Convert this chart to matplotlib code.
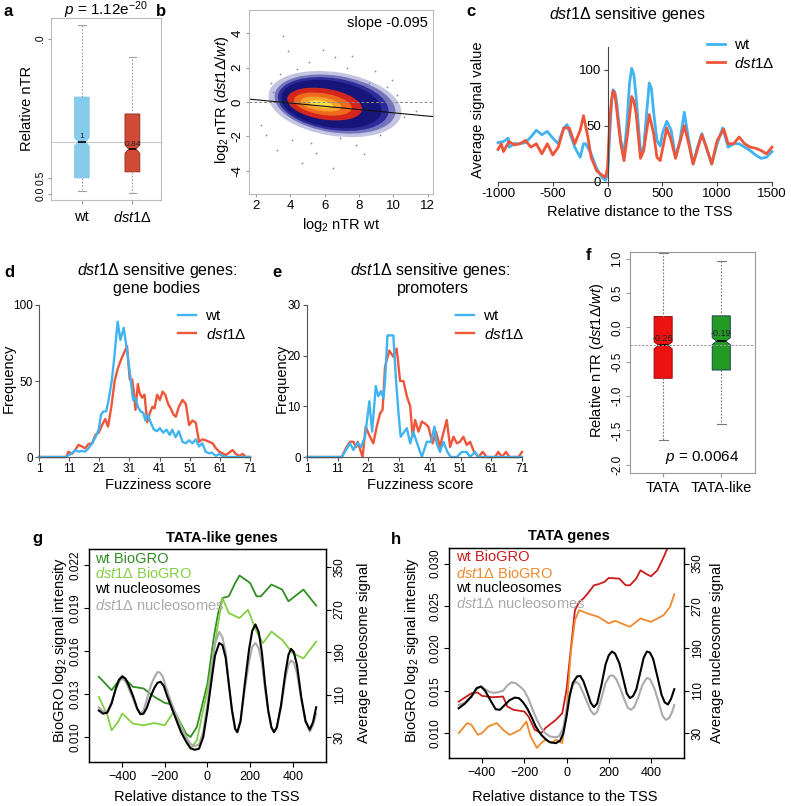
import matplotlib
matplotlib.use('Agg')
import matplotlib.pyplot as plt
from matplotlib.patches import Ellipse

W, H = 791, 806
plt.rcParams['font.family'] = ['Liberation Sans', 'DejaVu Sans']
plt.rcParams['mathtext.fontset'] = 'custom'
plt.rcParams['mathtext.rm'] = 'Liberation Sans'
plt.rcParams['mathtext.it'] = 'Liberation Sans:italic'
plt.rcParams['mathtext.bf'] = 'Liberation Sans:bold'

DST = r'$\mathit{dst1}\Delta$'

# ---------------- data ----------------
# a: boxplot (axis units as drawn)
a_pos = [1.03, 1.95]
a_labels = ['wt', DST]
a_whislo = [0.09, 0.03]
a_q1 = [0.50, 0.69]
a_med = [1.625, 1.40]
a_q3 = [3.03, 2.50]
a_whishi = [5.28, 4.28]
a_notch = [0.13, 0.13]
a_medtext = ['1', '0.84']
a_colors = ['#86CBEA', '#D04A35']
a_edges = ['#86CBEA', '#8a2a1c']
a_yticks = [0.0, 0.5, 4.84]
a_yticklabels = ['0.0', '0.5', '.0']

# b: density scatter, summarised as nested density layers + sparse points
b_center_y = -0.12
b_angle = -9
b_layer_cx = [6.6, 6.6, 6.5, 6.4, 6.0, 5.9, 5.8, 5.8]
b_layer_w = [7.8, 7.1, 6.5, 5.9, 4.4, 3.4, 2.4, 1.4]
b_layer_h = [3.7, 3.3, 3.0, 2.7, 1.8, 1.25, 0.8, 0.4]
b_layer_col = ['#c4c4e2', '#7474bc', '#2c2c9a', '#15157a', '#d4261c', '#ef6a1c', '#f8a22e', '#fbe04a']
b_out_x = [3.6, 3.85, 5.1, 4.4, 6.6, 7.3, 8.9, 9.6, 10.2, 2.3, 2.6, 3.2, 4.7, 5.5,
           6.5, 7.8, 9.2, 10.6, 11.3, 3.0, 2.9, 5.9, 8.3, 4.1, 6.9, 9.9, 3.4, 7.6, 5.2, 8.6]
b_out_y = [3.84, 2.98, 2.34, 1.9, 2.6, 2.0, 1.8, 0.9, 0.4, -1.34, -1.92, -2.8, -3.55, -2.97,
           -3.84, -2.5, -1.9, -0.9, -0.5, 0.6, 1.1, 3.0, -3.0, -2.2, -2.1, 1.3, 1.6, 2.7, -2.4, 1.1]
b_slope, b_intercept = -0.095, 0.32

# c: average signal profiles
c_x_wt = [-1000, -950, -906, -900, -850, -800, -750, -700, -650, -600, -550, -500, -450, -400,
          -370, -350, -300, -250, -220, -200, -150, -100, -50, -20, 0, 20, 35, 50, 65, 80, 100,
          120, 150, 175, 200, 220, 240, 260, 300, 330, 355, 380, 400, 420, 450, 480, 500, 540, 580,
          620, 660, 700, 730, 780, 820, 860, 900, 950, 1000, 1050, 1100, 1150, 1200, 1250, 1300,
          1350, 1400, 1450, 1500]
c_y_wt = [35, 36, 39, 31, 34, 34, 35, 40, 46, 42, 45, 39, 34, 48, 51, 45, 31, 22, 34, 34, 25,
          12, 4, 1.5, 7, 43, 70, 82, 80, 73, 55, 37, 25, 50, 88, 101, 95, 76, 27, 31, 60, 88, 83,
          62, 37, 32, 43, 54, 46, 22, 37, 62, 43, 16, 31, 43, 31, 16, 34, 48, 31, 34, 34, 31, 28,
          24, 21, 22, 27]
c_x_mut = [-1000, -970, -950, -900, -850, -800, -750, -700, -650, -600, -550, -500, -450, -400,
           -350, -300, -250, -220, -180, -150, -100, -50, -20, 0, 20, 35, 50, 65, 80, 100, 120, 150,
           185, 220, 240, 260, 300, 330, 355, 380, 420, 450, 480, 540, 580, 620, 700, 740, 780,
           860, 900, 950, 1000, 1060, 1100, 1150, 1200, 1250, 1300, 1350, 1400, 1450, 1500]
c_y_mut = [29, 34, 27, 36, 33, 34, 37, 31, 34, 25, 34, 24, 31, 48, 48, 34, 46, 59, 40, 22, 10,
           6, 4, 13, 55, 72, 81, 79, 67, 50, 34, 19, 45, 76, 72, 61, 21, 28, 45, 60, 43, 22, 19,
           48, 37, 21, 50, 34, 16, 42, 31, 16, 37, 47, 34, 34, 40, 34, 31, 30, 28, 25, 31]

# d: fuzziness histograms, gene bodies
d_x_wt = [1, 10, 10.8, 11.9, 13, 14.1, 15.2, 16.3, 17.4, 18.6, 19.7, 20.8, 21.6, 22.4, 23.3,
          24.1, 25.2, 26, 27.1, 28, 29.1, 30.2, 31.3, 32.2, 33, 33.8, 34.7, 35.6, 36.3, 37.1, 38,
          39.1, 40.2, 41.1, 42.2, 43.3, 44.4, 45.2, 46.3, 47.4, 48.6, 49.7, 50.8, 51.9, 53, 54.1,
          55.2, 56.3, 57.4, 58.3, 59.7, 60.8, 61.9, 63, 71]
d_y_wt = [0, 0, 1.3, 2.4, 4.6, 3.5, 4, 3.5, 5.7, 9, 13, 18, 28, 30, 30, 37.5, 51, 66, 89, 77,
          85, 70, 53, 37.5, 39, 33, 30, 29, 24, 28, 23, 18, 17, 19, 16, 18, 14.5, 18, 13, 17, 10,
          9, 11, 9, 11.6, 7, 9, 3.5, 2.4, 2.9, 0.7, 2, 0.7, 0, 0]
d_x_mut = [1, 10, 10.8, 11.9, 13, 14.1, 15.2, 16.3, 17.4, 18.6, 19.7, 20.8, 21.9, 23, 23.9, 25,
           26.1, 27.1, 28.2, 29.3, 30.2, 31.1, 31.9, 32.4, 33, 33.8, 34.4, 35.2, 36, 36.9, 37.8,
           38.6, 39.3, 40.2, 41.1, 42, 42.9, 43.8, 44.7, 45.6, 46.4, 47.4, 48.6, 49.7, 50.8, 51.9,
           53, 54.1, 55.2, 56.3, 57.4, 58.6, 59.7, 60.8, 61.9, 63, 64.1, 65.2, 66.3, 67.4, 68.6,
           69.6, 71]
d_y_mut = [0, 0, 3.5, 2, 4.6, 8, 7, 5.7, 8.5, 9, 14.5, 16, 21, 25, 20, 33, 50, 58, 64, 69, 73,
           51, 51, 44, 31, 48, 42, 39, 41, 23, 29, 33, 32, 41, 37.5, 43, 41, 35, 32, 28, 26.5, 33,
           37.5, 35, 21, 24, 22.6, 10, 11.6, 11, 10, 9, 5.7, 3.5, 2.4, 1.3, 2.9, 4.6, 2, 0.7, 2,
           0, 0]

# e: fuzziness histograms, promoters
e_x_wt = [1, 11.7, 12.3, 15, 16.1, 17.4, 18.6, 19.9, 21.3, 22.2, 23.4, 24.2, 25.1, 25.9, 26.4,
          27.2, 29.1, 30, 30.8, 31.5, 33.5, 34.6, 35.6, 36.7, 38.4, 40, 41.4, 42.5, 43.2, 44.3,
          45.4, 46.7, 47.8, 49.8, 51.4, 53, 54.1, 55.7, 56.8, 71]
e_y_wt = [0, 0, 0, 2.7, 1.4, 2.8, 2, 4, 11, 5, 14, 12, 13, 11.6, 15, 24, 24, 15, 8.6, 4, 5.7,
          2.7, 5, 3, 0, 3, 3, 6, 2.7, 1, 3, 1, 0, 0, 1, 1, 0, 1, 0, 0]
e_x_mut = [1, 12.3, 13.9, 15, 16.1, 17, 17.5, 19.1, 20.1, 21.5, 22.6, 23.7, 24.8, 25.6, 26.4,
           27.8, 29.1, 30.2, 31.3, 32.4, 33.5, 34.6, 35.4, 36.2, 37.3, 38.4, 39.4, 40.5, 41.9, 43,
           44.3, 45.2, 46.5, 47.6, 48.7, 49.8, 50.8, 51.9, 53, 54.1, 55.4, 56.8, 58.2, 59.5, 62.2,
           63.3, 64.4, 65.8, 66.9, 69.9, 71]
e_y_mut = [0, 0, 2, 3, 3, 2, 3, 0, 6, 4, 2.7, 6, 8.6, 9.3, 17.8, 21, 19.8, 21.4, 15, 15, 12, 10,
           4, 7.3, 5, 7, 6.6, 6, 2.7, 5, 2, 4.3, 7.3, 2, 4, 2.7, 3, 4, 2.4, 3, 1, 0, 1, 0, 0, 1, 0,
           1, 0, 0, 1]

# f: boxplot TATA / TATA-like
f_pos = [1.03, 1.96]
f_labels = ['TATA', 'TATA-like']
f_whislo = [-1.64, -1.41]
f_q1 = [-0.74, -0.62]
f_med = [-0.26, -0.20]
f_q3 = [0.16, 0.17]
f_whishi = [1.08, 0.97]
f_notch = [0.05, 0.05]
f_medtext = ['-0.26', '-0.19']
f_colors = ['#EE1111', '#249A24']
f_yticks = [1.0, 0.5, 0.0, -0.5, -1.0, -1.5, -2.0]
f_yticklabels = ['1.0', '0.5', '0.0', '-0.5', '-1.0', '-1.5', '-2.0']

# g: TATA-like genes
g_x_bg_wt = [-510, -450, -400, -350, -300, -250, -200, -170, -150, -100, -80, -50, 0, 30, 50,
             70, 100, 130, 150, 200, 230, 250, 300, 350, 380, 450, 510]
g_y_bg_wt = [0.01421, 0.01327, 0.01426, 0.01351, 0.01339, 0.01281, 0.01238, 0.01229, 0.01164,
             0.01023, 0.01000, 0.01070, 0.01374, 0.01701, 0.01865, 0.01970, 0.01982, 0.02075,
             0.02127, 0.02075, 0.01982, 0.01982, 0.02064, 0.02029, 0.01947, 0.02029, 0.01917]
g_x_bg_mut = [-510, -470, -450, -420, -400, -350, -300, -250, -200, -160, -140, -100, -80, -50,
              0, 30, 50, 70, 100, 150, 190, 230, 260, 300, 350, 400, 450, 510]
g_y_bg_mut = [0.01281, 0.01152, 0.01047, 0.01105, 0.01164, 0.01094, 0.01082, 0.01098, 0.01082,
              0.01175, 0.01140, 0.01000, 0.00918, 0.00977, 0.01327, 0.01608, 0.01795, 0.01970,
              0.01865, 0.01830, 0.01888, 0.01736, 0.01655, 0.01736, 0.01678, 0.01585, 0.01549,
              0.01666]
g_x_nuc_wt = [-510, -490, -470, -450, -430, -415, -400, -385, -370, -350, -330, -315, -300, -285,
              -265, -250, -235, -220, -205, -190, -170, -150, -125, -100, -80, -60, -40, -20, 0,
              20, 35, 55, 70, 85, 100, 115, 130, 140, 155, 175, 195, 210, 225, 240, 255, 270, 285,
              300, 312, 325, 345, 365, 380, 392, 405, 420, 440, 460, 480, 495, 510]
g_y_nuc_wt = [80, 74, 76, 93, 122, 138, 144, 140, 128, 108, 84, 73, 74, 85, 108, 122, 132, 134,
              126, 108, 87, 66, 40, 21, 9, 6, 8, 30, 80, 140, 183, 207, 203, 180, 130, 80, 45, 39,
              60, 130, 195, 230, 242, 228, 190, 130, 80, 48, 39, 48, 90, 150, 185, 196, 190, 165,
              105, 60, 44, 58, 86]
g_x_nuc_mut = [-510, -490, -470, -450, -430, -415, -400, -385, -370, -350, -330, -315, -300, -285,
               -265, -250, -235, -225, -210, -195, -170, -150, -125, -100, -80, -60, -40, -20, 0,
               20, 35, 55, 70, 85, 100, 115, 130, 140, 155, 175, 195, 210, 225, 240, 255, 270, 285,
               300, 312, 325, 345, 365, 380, 392, 405, 420, 440, 460, 480, 495, 510]
g_y_nuc_mut = [86, 78, 78, 96, 120, 134, 140, 135, 122, 103, 82, 74, 80, 100, 128, 142, 152, 152,
               144, 124, 95, 74, 48, 30, 17, 13, 16, 40, 93, 158, 205, 228, 218, 190, 130, 80, 45,
               40, 60, 120, 172, 200, 207, 198, 170, 120, 78, 48, 40, 48, 85, 140, 166, 174, 170,
               150, 100, 58, 40, 52, 74]

# h: TATA genes
h_x_bg_wt = [-510, -450, -420, -400, -350, -300, -280, -250, -200, -180, -150, -120, -100, -50,
             -20, 0, 20, 40, 60, 80, 100, 130, 150, 180, 200, 250, 280, 300, 330, 350, 380, 400,
             430, 460, 490, 510]
h_y_bg_wt = [0.01372, 0.01470, 0.01478, 0.01439, 0.01423, 0.01431, 0.01314, 0.01274, 0.01255,
             0.01196, 0.01039, 0.01000, 0.01059, 0.01157, 0.01235, 0.01510, 0.01980, 0.02450,
             0.02548, 0.02588, 0.02646, 0.02744, 0.02756, 0.02784, 0.02831, 0.02823, 0.02744,
             0.02744, 0.02823, 0.02921, 0.02874, 0.02850, 0.02921, 0.03078, 0.03254, 0.03391]
h_x_bg_mut = [-510, -470, -450, -420, -400, -370, -330, -300, -270, -250, -220, -190, -170, -140,
              -120, -100, -70, -50, -20, 0, 20, 40, 60, 80, 100, 150, 200, 230, 260, 300, 330,
              350, 400, 430, 460, 490, 510]
h_y_bg_mut = [0.01000, 0.01118, 0.01098, 0.00980, 0.01000, 0.01078, 0.01118, 0.01039, 0.00980,
              0.01000, 0.01039, 0.01137, 0.00961, 0.00824, 0.00882, 0.00922, 0.00882, 0.00922,
              0.00882, 0.01274, 0.01941, 0.02333, 0.02450, 0.02431, 0.02411, 0.02372, 0.02294,
              0.02325, 0.02294, 0.02254, 0.02313, 0.02352, 0.02313, 0.02352, 0.02392, 0.02490,
              0.02639]
h_x_nuc_wt = [-510, -480, -450, -425, -405, -385, -360, -335, -315, -295, -270, -245, -225, -205,
              -185, -165, -145, -120, -100, -80, -50, -30, -15, 0, 15, 30, 50, 65, 80, 100, 115,
              130, 145, 165, 185, 200, 215, 230, 250, 270, 285, 300, 315, 330, 350, 365, 380, 395,
              410, 430, 450, 465, 480, 495, 510]
h_y_nuc_wt = [77, 86, 99, 115, 118, 110, 92, 75, 74, 82, 92, 97, 96, 88, 76, 60, 42, 27, 19, 13,
              11, 16, 30, 61, 100, 125, 137, 138, 128, 105, 87, 79, 86, 120, 160, 177, 184, 180,
              162, 130, 105, 96, 100, 112, 146, 172, 184, 182, 170, 137, 102, 88, 84, 95, 113]
h_x_nuc_mut = [-510, -480, -450, -425, -405, -385, -365, -345, -325, -300, -280, -260, -240, -220,
               -200, -180, -160, -140, -120, -100, -80, -55, -35, -15, 0, 15, 30, 45, 60, 80, 100,
               115, 130, 145, 165, 185, 205, 220, 235, 255, 275, 290, 305, 320, 340, 360, 380, 395,
               415, 435, 455, 470, 485, 500, 510]
h_y_nuc_mut = [83, 88, 100, 113, 118, 113, 108, 106, 107, 110, 120, 126, 124, 118, 110, 95, 74,
               55, 40, 30, 24, 22, 24, 40, 74, 105, 122, 127, 122, 105, 86, 72, 65, 70, 95, 125,
               138, 139, 132, 114, 92, 78, 74, 79, 98, 122, 134, 132, 115, 90, 62, 55, 58, 70, 83]

BLUE = '#3FB4F0'
RED = '#EF5538'

# ---------------- figure ----------------
fig = plt.figure(figsize=(W / 100, H / 100), dpi=100)


def rect(l, t, r, b):
    return [l / W, 1 - b / H, (r - l) / W, (b - t) / H]


def ftext(x, y, s, **kw):
    kw.setdefault('ha', 'center')
    kw.setdefault('va', 'center')
    fig.text(x / W, 1 - y / H, s, **kw)


def rstyle_y(ax, size=8.5, length=2.5, pad=1.5):
    ax.tick_params(axis='y', labelrotation=90, labelsize=size, length=length, pad=pad)
    for t in ax.get_yticklabels():
        t.set_va('center')


def boxes(ax, pos, lo, q1, med, q3, hi, notch, cols, edges, width, wcol):
    stats = []
    for i in range(len(pos)):
        stats.append(dict(med=med[i], q1=q1[i], q3=q3[i], whislo=lo[i], whishi=hi[i],
                          cilo=med[i] - notch[i], cihi=med[i] + notch[i], fliers=[]))
    bp = ax.bxp(stats, positions=pos, widths=width, patch_artist=True, shownotches=True,
                showfliers=False,
                whiskerprops=dict(color=wcol, ls=(0, (1.5, 1.5)), lw=0.8),
                capprops=dict(color=wcol, lw=0.8),
                medianprops=dict(color='black', lw=1.2),
                boxprops=dict(lw=0.6))
    for p, c, e in zip(bp['boxes'], cols, edges):
        p.set_facecolor(c)
        p.set_edgecolor(e)
    return bp


# ---- panel a
axa = fig.add_axes(rect(51, 18, 161, 200))
axa.set_xlim(0.47, 2.47)
axa.set_ylim(-0.19, 5.5)
axa.axhline(a_med[0], color='#c8c8c8', lw=0.8, zorder=0)
boxes(axa, a_pos, a_whislo, a_q1, a_med, a_q3, a_whishi, a_notch, a_colors, a_edges, 0.27, '#a0a0a0')
for p, m, t in zip(a_pos, a_med, a_medtext):
    axa.text(p, m + 0.05, t, fontsize=6, ha='center', va='bottom', color='#222')
axa.set_yticks(a_yticks, a_yticklabels)
axa.set_xticks(a_pos, a_labels)
axa.tick_params(axis='x', labelsize=10.5, length=3, pad=4, color='#999')
rstyle_y(axa, 7.5)
axa.tick_params(axis='y', color='#999')
for s in axa.spines.values():
    s.set_color('#bbbbbb')
ftext(106, 15, r'$p$ = 1.12e$^{-20}$', fontsize=11, va='baseline')
ftext(27, 108, 'Relative nTR', rotation=90, fontsize=10.5)
ftext(8, 11, 'a', fontsize=12, fontweight='bold')

# ---- panel b
axb = fig.add_axes(rect(249, 10, 433, 194))
axb.set_xlim(1.6, 12.3)
axb.set_ylim(-5.35, 5.35)
for cx, w, h, c in zip(b_layer_cx, b_layer_w, b_layer_h, b_layer_col):
    axb.add_patch(Ellipse((cx, b_center_y), w, h, angle=b_angle, facecolor=c, edgecolor='none'))
axb.scatter(b_out_x, b_out_y, s=1.5, color='#8080b8', lw=0)
axb.axhline(0, color='#888', lw=0.7, ls=(0, (3, 2)))
axb.axline((0, b_intercept), slope=b_slope, color='#111', lw=0.8)
axb.set_xticks([2, 4, 6, 8, 10, 12])
axb.set_yticks([-4, -2, 0, 2, 4], ['-4', '-2', '0', '2', '4'])
axb.tick_params(axis='x', labelsize=9.5, length=2.5, pad=2, color='#999')
rstyle_y(axb, 9.5)
axb.tick_params(axis='y', color='#999')
for s in axb.spines.values():
    s.set_color('#bbbbbb')
axb.text(0.97, 0.93, 'slope -0.095', transform=axb.transAxes, ha='right', va='center', fontsize=10.5)
ftext(222, 100, r'log$_2$ nTR ($\mathit{dst1}\Delta\mathit{/wt}$)', rotation=90, fontsize=10.5)
ftext(341, 225, r'log$_2$ nTR wt', fontsize=10.5)
ftext(161, 11, 'b', fontsize=12, fontweight='bold')

# ---- panel c
axc = fig.add_axes(rect(498, 47, 772, 182))
axc.set_xlim(-1000, 1500)
axc.set_ylim(0, 120)
axc.plot(c_x_wt, c_y_wt, color=BLUE, lw=2, label='wt', clip_on=False, solid_joinstyle='round')
axc.plot(c_x_mut, c_y_mut, color=RED, lw=2, label=DST, clip_on=False, solid_joinstyle='round')
axc.spines['left'].set_position(('data', 0))
axc.spines[['top', 'right']].set_visible(False)
for s in ['left', 'bottom']:
    axc.spines[s].set_color('#444')
axc.set_xticks([-1000, -500, 0, 500, 1000, 1500], ['-1000', '-500', '0', '500', '1000', '1500'])
axc.set_yticks([0, 50, 100])
axc.tick_params(labelsize=9.5, length=3, pad=1.5, color='#444')
axc.legend(loc='upper left', bbox_to_anchor=(707 / W, 1 - 38 / H), bbox_transform=fig.transFigure,
           frameon=False, fontsize=11, handlelength=1.2, handletextpad=0.6, borderpad=0,
           labelspacing=0.25, borderaxespad=0)
ftext(628, 15, DST + ' sensitive genes', fontsize=11.5)
ftext(478, 110, 'Average signal value', rotation=90, fontsize=10.5)
ftext(640, 212, 'Relative distance to the TSS', fontsize=10.5)
ftext(471, 11, 'c', fontsize=12, fontweight='bold')


# ---- panels d, e
def fuzz(ax, xw, yw, xm, ym, ymax, yt):
    ax.set_xlim(1, 71)
    ax.set_ylim(0, ymax)
    ax.plot(xm, ym, color=RED, lw=1.7, label=DST, clip_on=False)
    ax.plot(xw, yw, color=BLUE, lw=1.7, label='wt', clip_on=False)
    ax.spines[['top', 'right']].set_visible(False)
    for s in ['left', 'bottom']:
        ax.spines[s].set_color('#555')
    ax.set_xticks(list(range(1, 72, 10)))
    ax.set_yticks(yt)
    ax.tick_params(labelsize=8.5, length=3, pad=1.5, color='#555')
    hs, ls = ax.get_legend_handles_labels()
    return hs[::-1], ls[::-1]


axd = fig.add_axes(rect(39, 305, 250, 457))
hs, ls = fuzz(axd, d_x_wt, d_y_wt, d_x_mut, d_y_mut, 100, [0, 50, 100])
axd.legend(hs, ls, loc='upper left', bbox_to_anchor=(178 / W, 1 - 309 / H),
           bbox_transform=fig.transFigure, frameon=False, fontsize=11, handlelength=1.2,
           handletextpad=0.6, borderpad=0, labelspacing=0.25, borderaxespad=0)
ftext(157, 270, DST + ' sensitive genes:', fontsize=11.5)
ftext(157, 289, 'gene bodies', fontsize=11.5)
ftext(9, 378, 'Frequency', rotation=90, fontsize=10.5)
ftext(158, 485, 'Fuzziness score', fontsize=10.5)
ftext(9, 272, 'd', fontsize=12, fontweight='bold')

axe = fig.add_axes(rect(307, 305, 522, 457))
hs, ls = fuzz(axe, e_x_wt, e_y_wt, e_x_mut, e_y_mut, 30, [0, 10, 20, 30])
axe.legend(hs, ls, loc='upper left', bbox_to_anchor=(456 / W, 1 - 309 / H),
           bbox_transform=fig.transFigure, frameon=False, fontsize=11, handlelength=1.2,
           handletextpad=0.6, borderpad=0, labelspacing=0.25, borderaxespad=0)
ftext(430, 270, DST + ' sensitive genes:', fontsize=11.5)
ftext(433, 289, 'promoters', fontsize=11.5)
ftext(282, 378, 'Frequency', rotation=90, fontsize=10.5)
ftext(420, 485, 'Fuzziness score', fontsize=10.5)
ftext(277, 272, 'e', fontsize=12, fontweight='bold')

# ---- panel f
axf = fig.add_axes(rect(630, 252, 755, 473))
axf.set_xlim(0.5, 2.5)
axf.set_ylim(-2.12, 1.10)
axf.axhline(f_med[0], color='#999', lw=0.8, ls=(0, (2, 1.5)), zorder=3)
boxes(axf, f_pos, f_whislo, f_q1, f_med, f_q3, f_whishi, f_notch, f_colors, ['#800', '#135'], 0.29, '#777')
for p, m, t in zip(f_pos, f_med, f_medtext):
    axf.text(p, m + 0.04, t, fontsize=6.5, ha='center', va='bottom', color='#222', zorder=4)
axf.set_yticks(f_yticks, f_yticklabels)
axf.set_xticks(f_pos, f_labels)
axf.tick_params(axis='x', labelsize=10.5, length=3, pad=3, color='#999')
rstyle_y(axf, 8.5, 3, 2)
axf.tick_params(axis='y', color='#999')
for s in axf.spines.values():
    s.set_color('#999999')
axf.text(0.58, 0.07, r'$p$ = 0.0064', transform=axf.transAxes, ha='center', va='center', fontsize=11)
ftext(597, 360, r'Relative nTR ($\mathit{dst1}\Delta\mathit{/wt}$)', rotation=90, fontsize=10.5)
ftext(588, 256, 'f', fontsize=12, fontweight='bold')


# ---- panels g, h
def tss(rc, ylim_l, yt_l, ylim_r, xbw, ybw, xbm, ybm, xnw, ynw, xnm, ynm, cw, cm):
    ax = fig.add_axes(rc)
    ax.set_xlim(-556, 556)
    ax.set_ylim(*ylim_l)
    ax.plot(xbw, ybw, color=cw, lw=1.3, solid_joinstyle='round')
    ax.plot(xbm, ybm, color=cm, lw=1.3, solid_joinstyle='round')
    ax2 = ax.twinx()
    ax2.set_ylim(*ylim_r)
    ax2.plot(xnm, ynm, color='#aaaaaa', lw=1.5, solid_joinstyle='round')
    ax2.plot(xnw, ynw, color='black', lw=1.5, solid_joinstyle='round')
    ax.set_xticks([-400, -200, 0, 200, 400])
    ax.set_yticks(yt_l, ['%.3f' % v for v in yt_l])
    ax2.set_yticks([30, 110, 190, 270, 350])
    ax.tick_params(axis='x', labelsize=9, length=3.5, pad=3)
    rstyle_y(ax, 8.5, 3.5, 2)
    rstyle_y(ax2, 8.5, 3.5, 2)
    for s in ax.spines.values():
        s.set_linewidth(1.0)
    return ax


tss(rect(89, 549, 326, 762), (0.00826, 0.02312), [0.010, 0.013, 0.016, 0.019, 0.022], (-17, 384),
    g_x_bg_wt, g_y_bg_wt, g_x_bg_mut, g_y_bg_mut, g_x_nuc_wt, g_y_nuc_wt, g_x_nuc_mut, g_y_nuc_mut,
    '#2F8F22', '#84D043')
ftext(222, 538, 'TATA-like genes', fontsize=10.5, fontweight='bold')
for y, s, c in zip([559, 574, 589, 605],
                   ['wt BioGRO', DST + ' BioGRO', 'wt nucleosomes', DST + ' nucleosomes'],
                   ['#2F8F22', '#84D043', 'black', '#aaaaaa']):
    ftext(95, y, s, color=c, fontsize=10.5, ha='left')
ftext(60, 650, r'BioGRO log$_2$ signal intensity', rotation=90, fontsize=10.5)
ftext(364, 653, 'Average nucleosome signal', rotation=90, fontsize=10.5)
ftext(207, 797, 'Relative distance to the TSS', fontsize=10.5)
ftext(37, 539, 'g', fontsize=12, fontweight='bold')

tss(rect(449, 548, 684, 758), (0.00706, 0.03184), [0.010, 0.015, 0.020, 0.025, 0.030], (-17, 379.5),
    h_x_bg_wt, h_y_bg_wt, h_x_bg_mut, h_y_bg_mut, h_x_nuc_wt, h_y_nuc_wt, h_x_nuc_mut, h_y_nuc_mut,
    '#CC1A1A', '#EE8A2E')
ftext(569, 536, 'TATA genes', fontsize=10.5, fontweight='bold')
for y, s, c in zip([557, 573, 588, 603],
                   ['wt BioGRO', DST + ' BioGRO', 'wt nucleosomes', DST + ' nucleosomes'],
                   ['#CC1A1A', '#EE8A2E', 'black', '#aaaaaa']):
    ftext(456, y, s, color=c, fontsize=10.5, ha='left')
ftext(412, 650, r'BioGRO log$_2$ signal intensity', rotation=90, fontsize=10.5)
ftext(717, 653, 'Average nucleosome signal', rotation=90, fontsize=10.5)
ftext(565, 797, 'Relative distance to the TSS', fontsize=10.5)
ftext(396, 539, 'h', fontsize=12, fontweight='bold')

fig.savefig('out.png', dpi=100)
